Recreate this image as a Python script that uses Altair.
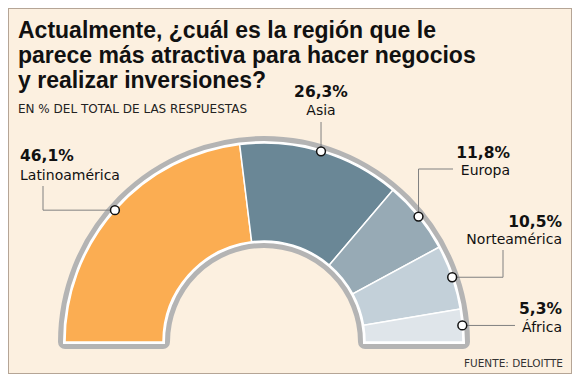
import math
import altair as alt
import pandas as pd

# ---- data ----
regions = ["Latinoamérica", "Asia", "Europa", "Norteamérica", "África"]
values = [46.1, 26.3, 11.8, 10.5, 5.3]
pct_labels = ["46,1%", "26,3%", "11,8%", "10,5%", "5,3%"]

title_lines = [
    "Actualmente, ¿cuál es la región que le",
    "parece más atractiva para hacer negocios",
    "y realizar inversiones?",
]
subtitle = "EN % DEL TOTAL DE LAS RESPUESTAS"
source = "FUENTE: DELOITTE"

# ---- styling / layout ----
colors = ["#FBAD52", "#6A8796", "#97AAB5", "#C3D0D9", "#DFE5EA"]
BG = "#FCF0E0"
RING = "#B4B4B4"
W, H = 564, 366
CX, CY = 256, 334          # centre of the half donut (plot px)
R_OUT, R_IN = 199, 101
T0, T1 = 1.5 * math.pi, 2.5 * math.pi

# label anchor (x, pct baseline, name baseline, align) and leader elbows
label_layout = {
    "Latinoamérica": dict(lx=12, ly1=153, ly2=172, align="left", ex=35, ey=None, px=35, py=178),
    "Asia": dict(lx=313, ly1=89, ly2=107, align="center", ex=None, ey=114, px=None, py=None),
    "Europa": dict(lx=502, ly1=150, ly2=167, align="right", ex=None, ey=161, px=445, py=161),
    "Norteamérica": dict(lx=554, ly1=219, ly2=236, align="right", ex=495, ey=None, px=495, py=242),
    "África": dict(lx=554, ly1=306, ly2=324, align="right", ex=507, ey=None, px=None, py=None),
}

df = pd.DataFrame({"region": regions, "value": values, "pct": pct_labels,
                   "idx": list(range(len(regions)))})
lead = df.copy()
for k in ["ex", "ey", "px", "py"]:
    lead[k] = [label_layout[r][k] for r in regions]
lead = lead.astype({"ex": float, "ey": float, "px": float, "py": float})

one = pd.DataFrame({"a": [0]})

ring = alt.Chart(one).mark_arc(
    theta=T0, theta2=T1, radius=R_OUT, radius2=R_IN,
    fill=RING, stroke=RING, strokeWidth=14, strokeJoin="round"
).encode(x=alt.value(CX), y=alt.value(CY))

white = alt.Chart(one).mark_arc(
    theta=T0, theta2=T1, radius=R_OUT, radius2=R_IN,
    fill="white", stroke="white", strokeWidth=4, strokeJoin="miter"
).encode(x=alt.value(CX), y=alt.value(CY))

segments = alt.Chart(df).mark_arc(
    radius=R_OUT, radius2=R_IN, stroke="white", strokeWidth=1.5
).encode(
    theta=alt.Theta("value:Q", stack=True, scale=alt.Scale(range=[T0, T1])),
    color=alt.Color("region:N", scale=alt.Scale(domain=regions, range=colors), legend=None),
    order=alt.Order("idx:Q"),
    x=alt.value(CX), y=alt.value(CY),
)

base_lead = alt.Chart(lead).transform_window(
    cum="sum(value)", sort=[alt.SortField("idx")], frame=[None, 0]
).transform_joinaggregate(
    total="sum(value)"
).transform_calculate(
    ang=f"((datum.cum - datum.value/2)/datum.total)*PI - PI/2",
).transform_calculate(
    mx=f"{CX} + {R_OUT}*sin(datum.ang)",
    my=f"{CY} - {R_OUT}*cos(datum.ang)",
).transform_calculate(
    e_x="isValid(datum.ex) ? datum.ex : datum.mx",
    e_y="isValid(datum.ey) ? datum.ey : datum.my",
).transform_calculate(
    p_x="isValid(datum.px) ? datum.px : datum.e_x",
    p_y="isValid(datum.py) ? datum.py : datum.e_y",
)

seg1 = base_lead.mark_rule(color="#808080", strokeWidth=1).encode(
    x=alt.X("mx:Q", scale=None, axis=None), y=alt.Y("my:Q", scale=None, axis=None),
    x2="e_x:Q", y2="e_y:Q",
)
seg2 = base_lead.mark_rule(color="#808080", strokeWidth=1).encode(
    x=alt.X("e_x:Q", scale=None, axis=None), y=alt.Y("e_y:Q", scale=None, axis=None),
    x2="p_x:Q", y2="p_y:Q",
)
markers = base_lead.mark_point(
    shape="circle", filled=True, fill="white", stroke="#111111",
    strokeWidth=1.5, size=78, opacity=1
).encode(
    x=alt.X("mx:Q", scale=None, axis=None), y=alt.Y("my:Q", scale=None, axis=None),
)

layers = [ring, white, segments, seg1, seg2, markers]

for r in regions:
    L = label_layout[r]
    sub = alt.Chart(df).transform_filter(alt.datum.region == r)
    layers.append(sub.mark_text(
        align=L["align"], baseline="alphabetic", font="DejaVu Sans",
        fontWeight="bold", fontSize=15.5, color="#111111"
    ).encode(x=alt.value(L["lx"]), y=alt.value(L["ly1"]), text="pct:N"))
    layers.append(sub.mark_text(
        align=L["align"], baseline="alphabetic", font="DejaVu Sans",
        fontSize=14, color="#111111"
    ).encode(x=alt.value(L["lx"]), y=alt.value(L["ly2"]), text="region:N"))

for i, line in enumerate(title_lines):
    layers.append(alt.Chart(one).mark_text(
        align="left", baseline="alphabetic", font="Liberation Sans",
        fontWeight="bold", fontSize=23, color="#111111"
    ).encode(x=alt.value(10), y=alt.value(29.5 + 25 * i), text=alt.value(line)))

layers.append(alt.Chart(one).mark_text(
    align="left", baseline="alphabetic", font="DejaVu Sans",
    fontSize=12, color="#222222"
).encode(x=alt.value(10), y=alt.value(104.5), text=alt.value(subtitle)))

layers.append(alt.Chart(one).mark_text(
    align="right", baseline="alphabetic", font="DejaVu Sans",
    fontSize=10.5, color="#333333"
).encode(x=alt.value(555), y=alt.value(358.5), text=alt.value(source)))

chart = alt.layer(*layers).properties(
    width=W, height=H, padding=0, background=BG,
    autosize=alt.AutoSizeParams(type="none"),
).configure_view(stroke="#B5A596", strokeWidth=2)

chart.save("out.html", embed_options={"renderer": "svg", "actions": False})
